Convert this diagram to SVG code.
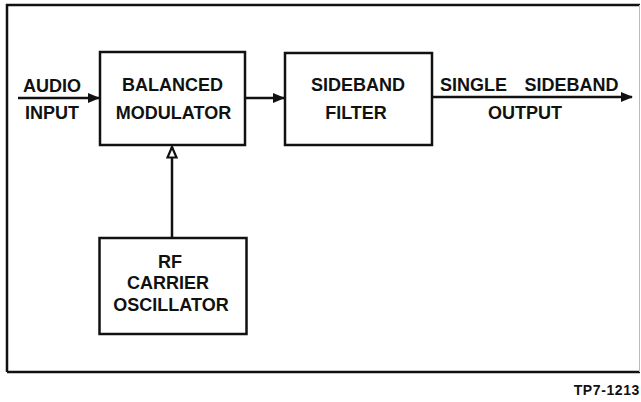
<svg xmlns="http://www.w3.org/2000/svg" width="641" height="402" viewBox="0 0 641 402">
<style>
.box{fill:#fff;stroke:#111;stroke-width:2.5}
.ln{fill:none;stroke:#111;stroke-width:2.5}
.t{font-family:"Liberation Sans",Arial,sans-serif;font-weight:bold;font-size:18px;fill:#111;text-anchor:middle}
</style>
<defs>
<marker id="ah" markerWidth="12" markerHeight="10" refX="11" refY="5" orient="auto" markerUnits="userSpaceOnUse">
<path d="M0,0 L12,5 L0,10 Z" fill="#111"/>
</marker>
<marker id="oh" markerWidth="14" markerHeight="14" refX="12" refY="6" orient="auto" markerUnits="userSpaceOnUse">
<path d="M1.5,1.5 L12,6 L1.5,10.5 Z" fill="#fff" stroke="#111" stroke-width="2.2"/>
</marker>
</defs>
<rect width="641" height="402" fill="#fff"/>
<g id="frame">
<path d="M7,372 L7,5 L640,5" class="ln"/>
<path d="M7,372 L640,372" class="ln"/>
<path d="M639.5,5 L639.5,372" fill="none" stroke="#bbb" stroke-width="1"/>
</g>
<g id="connectors">
<line x1="18" y1="98" x2="99" y2="98" class="ln" marker-end="url(#ah)"/>
<line x1="245" y1="98" x2="284" y2="98" class="ln" marker-end="url(#ah)"/>
<line x1="432" y1="97" x2="632" y2="97" class="ln" marker-end="url(#ah)"/>
<line x1="172" y1="238" x2="172" y2="147" class="ln" marker-end="url(#oh)"/>
</g>
<g id="audio-input">
<text class="t" x="52" y="92">AUDIO</text>
<text class="t" x="52" y="119">INPUT</text>
</g>
<g id="balanced-modulator">
<rect class="box" x="100" y="52" width="145" height="93"/>
<text class="t" x="172.5" y="91">BALANCED</text>
<text class="t" x="173.5" y="119">MODULATOR</text>
</g>
<g id="sideband-filter">
<rect class="box" x="285" y="53" width="147" height="92"/>
<text class="t" x="358" y="91">SIDEBAND</text>
<text class="t" x="356" y="119">FILTER</text>
</g>
<g id="output">
<text class="t" x="473.5" y="91">SINGLE</text>
<text class="t" x="571.5" y="91">SIDEBAND</text>
<text class="t" x="525" y="119">OUTPUT</text>
</g>
<g id="rf-carrier-oscillator">
<rect class="box" x="99.5" y="238" width="147" height="96"/>
<text class="t" x="170" y="268">RF</text>
<text class="t" x="168" y="289">CARRIER</text>
<text class="t" x="171" y="311">OSCILLATOR</text>
</g>
<g id="caption">
<text x="640" y="395" font-family="'Liberation Sans',Arial,sans-serif" font-weight="bold" font-size="14" letter-spacing="0.6" fill="#111" text-anchor="end">TP7-1213</text>
</g>
</svg>
